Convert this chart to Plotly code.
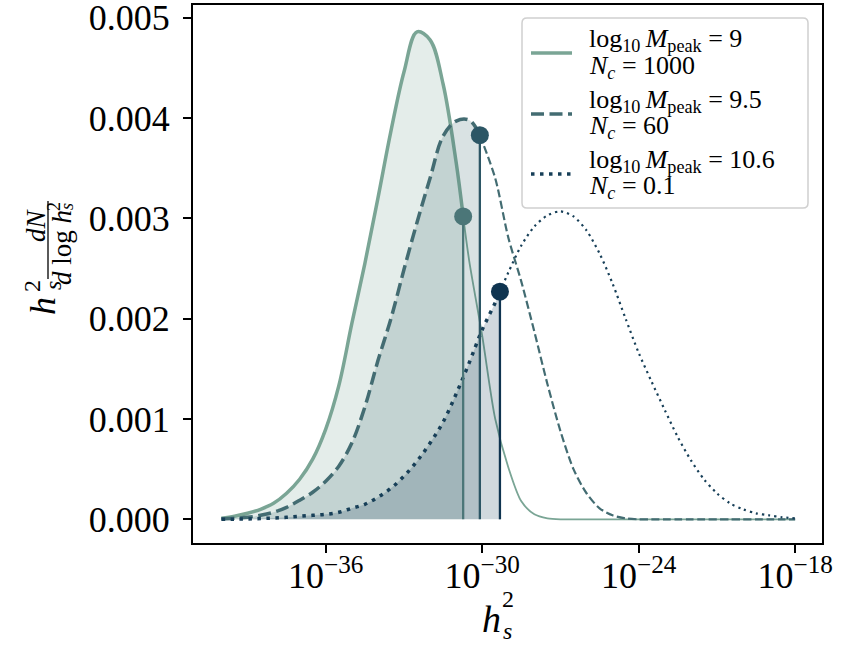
import plotly.graph_objects as go

# ---------------- data ----------------
log_h2 = [-40.0, -39.5, -39.0, -38.5, -38.0, -37.5, -37.0, -36.5, -36.0, -35.5,
          -35.0, -34.5, -34.0, -33.5, -33.0, -32.5, -32.0, -31.5, -31.0, -30.5,
          -30.0, -29.5, -29.0, -28.5, -28.0, -27.5, -27.0, -26.5, -26.0, -25.5,
          -25.0, -24.5, -24.0, -23.5, -23.0, -22.5, -22.0, -21.5, -21.0, -20.5,
          -20.0, -19.5, -19.0, -18.5, -18.0]

dist_m9 = [0.00001, 0.00003, 0.00006, 0.00010, 0.00016, 0.00026, 0.00040, 0.00060, 0.00090, 0.00133,
           0.00195, 0.00255, 0.00320, 0.00387, 0.00446, 0.00486, 0.00478, 0.00434, 0.00356, 0.00258,
           0.00183, 0.00100, 0.00052, 0.00018, 0.00005, 0.00001, 0.0, 0.0, 0.0, 0.0,
           0.0, 0.0, 0.0, 0.0, 0.0, 0.0, 0.0, 0.0, 0.0, 0.0,
           0.0, 0.0, 0.0, 0.0, 0.0]

dist_m95 = [0.000005, 0.00001, 0.00002, 0.00004, 0.00007, 0.00012, 0.00019, 0.00027, 0.00038, 0.00053,
            0.00076, 0.00112, 0.00158, 0.00200, 0.00249, 0.00296, 0.00340, 0.00382, 0.00397, 0.00398,
            0.00380, 0.00340, 0.00281, 0.00237, 0.00187, 0.00135, 0.00088, 0.00050, 0.00026, 0.00011,
            0.00004, 0.00001, 0.0, 0.0, 0.0, 0.0, 0.0, 0.0, 0.0, 0.0,
            0.0, 0.0, 0.0, 0.0, 0.0]

dist_m106 = [0.0, 0.000002, 0.000004, 0.000008, 0.000013, 0.00002, 0.00003, 0.00004, 0.00005, 0.00007,
             0.00011, 0.00015, 0.00022, 0.00031, 0.00043, 0.00058, 0.00076, 0.00097, 0.00125, 0.00156,
             0.00189, 0.00216, 0.00246, 0.00273, 0.00292, 0.00303, 0.00307, 0.00302, 0.00288, 0.00265,
             0.00235, 0.00200, 0.00166, 0.00137, 0.00109, 0.00082, 0.00059, 0.00040, 0.00026, 0.00016,
             0.00010, 0.00006, 0.00004, 0.00002, 0.00001]

# detection threshold (log10 h^2) and value at the threshold (marker)
cut_log = [-30.73, -30.09, -29.32]
cut_val = [0.00302, 0.00383, 0.00227]

legend_line1 = [
    "log<sub>10</sub>\u2009<i>M</i><sub>peak</sub>\u2005=\u20059",
    "log<sub>10</sub>\u2009<i>M</i><sub>peak</sub>\u2005=\u20059.5",
    "log<sub>10</sub>\u2009<i>M</i><sub>peak</sub>\u2005=\u200510.6",
]
legend_line2 = [
    "<i>N</i><sub><i>c</i></sub>\u2005=\u20051000",
    "<i>N</i><sub><i>c</i></sub>\u2005=\u200560",
    "<i>N</i><sub><i>c</i></sub>\u2005=\u20050.1",
]

y_ticks = [0.0, 0.001, 0.002, 0.003, 0.004, 0.005]
y_ticktext = ["0.000", "0.001", "0.002", "0.003", "0.004", "0.005"]
x_ticks = [1e-36, 1e-30, 1e-24, 1e-18]
x_ticktext = ["10<sup>\u221236</sup>", "10<sup>\u221230</sup>", "10<sup>\u221224</sup>", "10<sup>\u221218</sup>"]

# ---------------- styles ----------------
line_cols = ["#7aa595", "#436c72", "#173f58"]
fill_cols = ["rgba(122,165,149,0.2)", "rgba(67,108,114,0.2)", "rgba(23,63,88,0.2)"]
dot_cols = ["#4b7678", "#2c5665", "#0f3450"]
thick_dash = ["solid", "13px,5.5px", "3.5px,5.5px"]
thin_dash = ["solid", "8px,3.5px", "2.2px,4px"]
thin_w = [1.8, 2.2, 2.2]
FONT = "Liberation Serif"

fig = go.Figure()
series = [dist_m9, dist_m95, dist_m106]

for i, ys in enumerate(series):
    c = cut_log[i]
    xa = [10 ** l for l, v in zip(log_h2, ys) if l < c - 0.15] + [10 ** c]
    ya = [v for l, v in zip(log_h2, ys) if l < c - 0.15] + [cut_val[i]]
    xb = [10 ** c] + [10 ** l for l, v in zip(log_h2, ys) if l > c + 0.15]
    yb = [cut_val[i]] + [v for l, v in zip(log_h2, ys) if l > c + 0.15]
    fig.add_trace(go.Scatter(x=xa, y=ya, mode="lines", fill="tozeroy", fillcolor=fill_cols[i],
                             line=dict(color=line_cols[i], width=3.5, dash=thick_dash[i], shape="spline", smoothing=1.0),
                             showlegend=False))
    fig.add_trace(go.Scatter(x=xb, y=yb, mode="lines",
                             line=dict(color=line_cols[i], width=thin_w[i], dash=thin_dash[i], shape="spline", smoothing=0.8),
                             showlegend=False, hoverinfo="skip"))

for i in range(3):
    fig.add_trace(go.Scatter(x=[10 ** cut_log[i], 10 ** cut_log[i]], y=[0, cut_val[i]], mode="lines",
                             line=dict(color=dot_cols[i], width=2.3), showlegend=False, hoverinfo="skip"))
for i in range(3):
    fig.add_trace(go.Scatter(x=[10 ** cut_log[i]], y=[cut_val[i]], mode="markers",
                             marker=dict(color=dot_cols[i], size=18, line=dict(width=0)), showlegend=False))

W, H = 855, 652
L, R, T, B = 193, 822, 5, 543   # plot area in pixels


def px(x):
    return (x - L) / (R - L)


def py(y):
    return (B - y) / (B - T)


annots = []


def ann(text, x, y, size, angle=0, xanchor="center"):
    annots.append(dict(text=text, x=px(x), y=py(y), xref="paper", yref="paper", showarrow=False,
                       xanchor=xanchor, yanchor="middle", textangle=angle,
                       font=dict(family=FONT, size=size, color="black")))


# x-axis label h_s^2
ann("<i>h</i>", 491, 619, 38)
ann("2", 508, 599, 24)
ann("<i>s</i>", 508, 631, 24)
# y-axis label h_s^2 dN / (d log h_s^2)
ann("<i>h</i>", 43, 306, 36, -90)
ann("2", 32, 286, 24, -90)
ann("<i>s</i>", 53, 286, 24, -90)
ann("<i>dN</i>", 36, 225, 27, -90)
ann("<i>d</i> log <i>h</i>", 62, 248, 27, -90)
ann("2", 54, 207, 18, -90)
ann("<i>s</i>", 67, 207, 18, -90)

shapes = [dict(type="line", xref="paper", yref="paper", x0=px(48), x1=px(48), y0=py(201), y1=py(279),
               line=dict(color="black", width=1.3))]

# ----- legend box (rounded) -----
bx0, bx1, by0, by1, r = 522, 808, 18, 208, 5
path = (f"M {px(bx0 + r)},{py(by0)} L {px(bx1 - r)},{py(by0)} Q {px(bx1)},{py(by0)} {px(bx1)},{py(by0 + r)} "
        f"L {px(bx1)},{py(by1 - r)} Q {px(bx1)},{py(by1)} {px(bx1 - r)},{py(by1)} "
        f"L {px(bx0 + r)},{py(by1)} Q {px(bx0)},{py(by1)} {px(bx0)},{py(by1 - r)} "
        f"L {px(bx0)},{py(by0 + r)} Q {px(bx0)},{py(by0)} {px(bx0 + r)},{py(by0)} Z")
shapes.append(dict(type="path", xref="paper", yref="paper", path=path,
                   fillcolor="rgba(255,255,255,0.85)", line=dict(color="#d0d0d0", width=1.5), layer="above"))
sample_y = [53, 114, 174]
text_y1 = [40, 101, 161]
text_y2 = [67, 127, 187]
for i in range(3):
    shapes.append(dict(type="line", xref="paper", yref="paper", x0=px(531), x1=px(572),
                       y0=py(sample_y[i]), y1=py(sample_y[i]), layer="above",
                       line=dict(color=line_cols[i], width=3.5, dash=thick_dash[i])))
    ann(legend_line1[i], 587, text_y1[i], 26, xanchor="left")
    ann(legend_line2[i], 587, text_y2[i], 26, xanchor="left")

fig.update_layout(
    width=W, height=H,
    margin=dict(l=L, r=W - R, t=T, b=H - B, autoexpand=False),
    plot_bgcolor="white", paper_bgcolor="white",
    annotations=annots,
    shapes=shapes,
    showlegend=False,
)
# data scale: 1e-36 at x 325.7, 26.08 px per decade; 0 at y 519.3, 100.3 px per 0.001
fig.update_xaxes(type="log", range=[-41.09, -16.97], tickvals=x_ticks, ticktext=x_ticktext,
                 ticks="outside", ticklen=8, tickwidth=1.5, tickcolor="black",
                 showline=True, linewidth=2, linecolor="black", mirror=True,
                 showgrid=False, zeroline=False, automargin=False, ticklabeloverflow="allow",
                 ticklabelstandoff=-8,
                 tickfont=dict(family=FONT, size=36, color="black"))
fig.update_yaxes(range=[-0.000236, 0.0051276], tickvals=y_ticks, ticktext=y_ticktext,
                 ticks="outside", ticklen=8, tickwidth=1.5, tickcolor="black",
                 showline=True, linewidth=2, linecolor="black", mirror=True,
                 showgrid=False, zeroline=False, automargin=False, ticklabeloverflow="allow",
                 ticklabelstandoff=6,
                 tickfont=dict(family=FONT, size=36, color="black"))

fig.write_html("out.html", config={"displayModeBar": False},
               post_script="document.body.style.margin='0px';")
